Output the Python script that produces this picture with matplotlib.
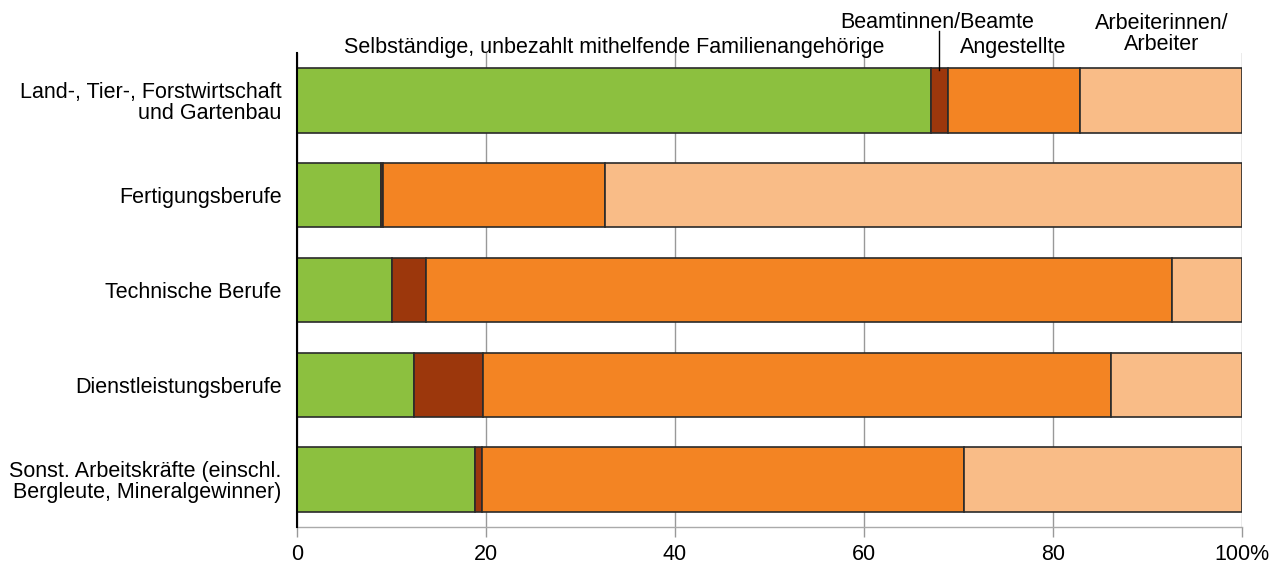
import matplotlib.pyplot as plt
import matplotlib.transforms as mtransforms
import numpy as np

plt.rcParams['font.family'] = ['Liberation Sans', 'DejaVu Sans']

categories = ["Land-, Tier-, Forstwirtschaft\nund Gartenbau",
              "Fertigungsberufe",
              "Technische Berufe",
              "Dienstleistungsberufe",
              "Sonst. Arbeitskräfte (einschl.\nBergleute, Mineralgewinner)"]

series_names = ["Selbständige, unbezahlt mithelfende Familienangehörige",
                "Beamtinnen/Beamte", "Angestellte", "Arbeiterinnen/\nArbeiter"]

selbst = [67.1, 8.9, 10.1, 12.4, 18.8]
beamte = [1.8, 0.2, 3.6, 7.3, 0.8]
angest = [14.0, 23.5, 78.9, 66.4, 51.0]
arbeiter = [17.1, 67.4, 7.4, 13.9, 29.4]

colors = ["#8cc03f", "#9c370c", "#f38423", "#f9bc87"]
xticks = [0, 20, 40, 60, 80, 100]
xticklabels = ["0", "20", "40", "60", "80", "100%"]

FS = 15.5

fig = plt.figure(figsize=(12.78, 5.63), dpi=100)
ax = fig.add_axes([0.2324, 0.064, 0.7394, 0.842])

y = np.arange(len(categories))
left = np.zeros(len(categories))
for vals, col in zip([selbst, beamte, angest, arbeiter], colors):
    ax.barh(y, vals, left=left, height=0.68, color=col, edgecolor="#2a2a2a",
            linewidth=1.2, zorder=3)
    left += np.array(vals)

ax.set_xlim(0, 100)
ax.set_ylim(4.5, -0.5)
ax.set_xticks(xticks)
ax.set_xticklabels(xticklabels, fontsize=FS)
ax.set_yticks(y)
ax.set_yticklabels(categories, fontsize=FS, ha="right", multialignment="right",
                   linespacing=1.0)
ax.tick_params(axis="y", length=0, pad=11)
ax.tick_params(axis="x", length=7, color="#999999", width=1, pad=5)
ax.grid(axis="x", color="#999999", linewidth=1, zorder=0)
for s in ["top", "right"]:
    ax.spines[s].set_visible(False)
ax.spines["bottom"].set_color("#aaaaaa")
ax.spines["bottom"].set_linewidth(1)
ax.spines["left"].set_color("black")
ax.spines["left"].set_linewidth(1.5)
ax.spines["left"].set_zorder(4)

tr = mtransforms.blended_transform_factory(ax.transData, fig.transFigure)
ax.text(33.6, 1 - 48 / 563, series_names[0], transform=tr, ha="center",
        va="center", fontsize=FS)
ax.text(67.7, 1 - 22 / 563, series_names[1], transform=tr, ha="center",
        va="center", fontsize=FS)
ax.text(75.8, 1 - 48 / 563, series_names[2], transform=tr, ha="center",
        va="center", fontsize=FS)
ax.text(91.5, 1 - 34 / 563, series_names[3], transform=tr, ha="center",
        va="center", fontsize=FS, linespacing=1.05)
ax.plot([67.9, 67.9], [1 - 31 / 563, 1 - 70 / 563], transform=tr,
        color="black", linewidth=1, clip_on=False, zorder=5)

fig.savefig("out.png", dpi=100)
